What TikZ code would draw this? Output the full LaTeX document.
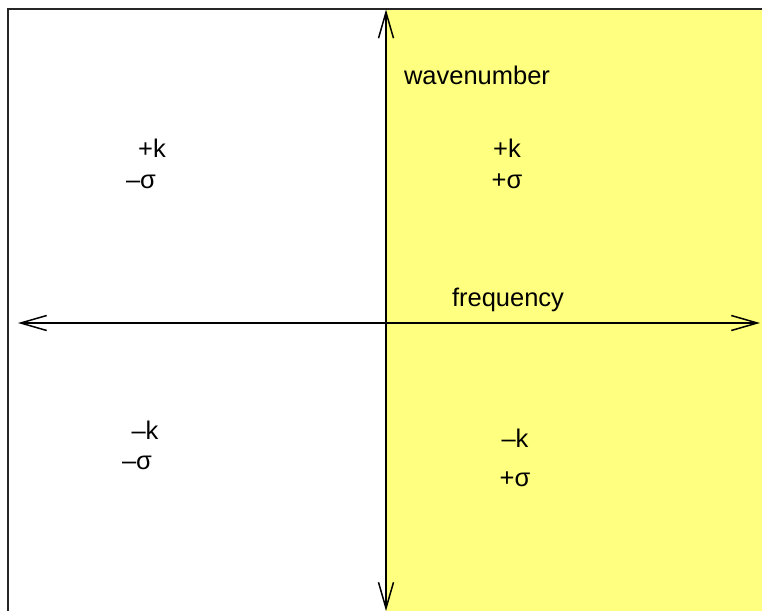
\documentclass[tikz,border=0pt]{standalone}
\usepackage{fontspec}
\setmainfont{Liberation Sans}
\usetikzlibrary{arrows.meta}
\definecolor{paleyellow}{RGB}{255,255,128}
\begin{document}
\begin{tikzpicture}[x=1pt,y=-1pt,
  lbl/.style={font=\fontsize{25.5}{30}\selectfont, inner sep=0pt},
  axis/.style={line width=1.5pt, {Straight Barb[length=26pt,width=15pt]}-{Straight Barb[length=26pt,width=15pt]}}]
\useasboundingbox (0,0) rectangle (762,611);
\fill[white] (0,0) rectangle (762,611);
\fill[paleyellow] (386,9) rectangle (762,611);
\draw[line width=2.5pt, black!85] (8,611) -- (8,9) -- (762,9);
\coordinate (top) at (386,9.5);
\coordinate (bottom) at (386,611);
\coordinate (left) at (18,323);
\coordinate (right) at (760,323);
\draw[axis] (bottom) -- (top);
\draw[axis] (left) -- (right);
\node[lbl] (wn) at (477,75) {wavenumber};
\node[lbl] (fq) at (508,300) {frequency};
\node[lbl] (k1) at (152,148) {+k};
\node[lbl] (s1) at (141,182) {–σ};
\node[lbl] (k2) at (507,148) {+k};
\node[lbl] (s2) at (507,181) {+σ};
\node[lbl] (k3) at (145,430) {–k};
\node[lbl] (s3) at (137,463) {–σ};
\node[lbl] (k4) at (515,438) {–k};
\node[lbl] (s4) at (515,479) {+σ};
\end{tikzpicture}
\end{document}
